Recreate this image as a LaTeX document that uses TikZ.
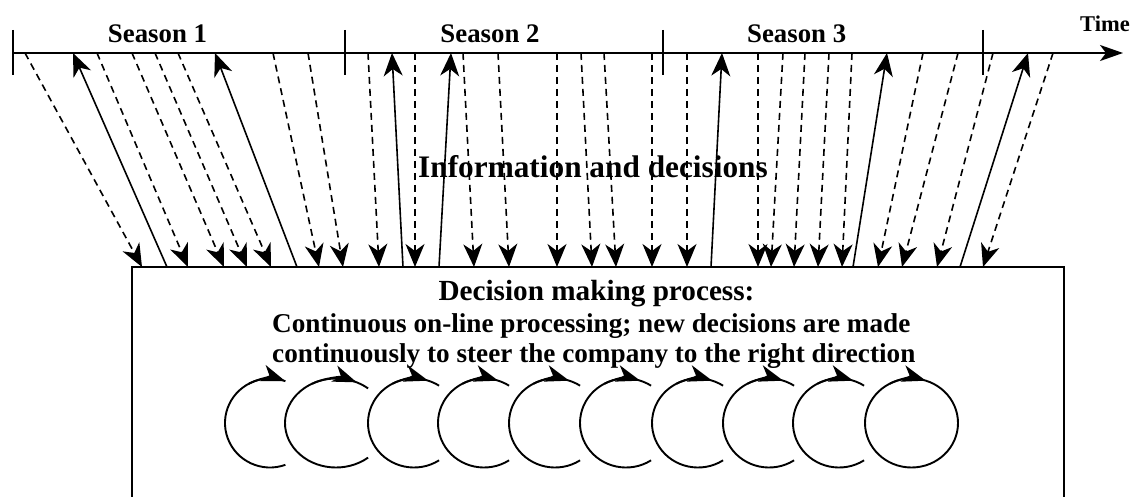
\documentclass[tikz,border=0pt]{standalone}
\usepackage{fontspec}
\setmainfont{Liberation Serif}
\usetikzlibrary{arrows.meta}
\begin{document}
\begin{tikzpicture}[x=1pt,y=-1pt,
  axisline/.style={line width=2pt,-{Stealth[length=23pt,width=16pt,inset=6pt]}},
  tickline/.style={line width=1.6pt},
  infoarrow/.style={line width=1.6pt,dash pattern=on 7pt off 5pt,-{Stealth[length=23pt,width=19pt,inset=7pt]}},
  decarrow/.style={line width=1.6pt,-{Stealth[length=23pt,width=19pt,inset=7pt]}},
  boxline/.style={line width=2pt},
  loopline/.style={line width=1.9pt},
  looparrow/.style={line width=1.9pt,-{Stealth[length=24pt,width=17pt,inset=7pt]}},
  seasonlbl/.style={font=\fontsize{26.8pt}{30pt}\selectfont\bfseries,anchor=base,inner sep=0pt},
  timelbl/.style={font=\fontsize{22.5pt}{26pt}\selectfont\bfseries,anchor=base,inner sep=0pt},
  infolbl/.style={font=\fontsize{31.3pt}{36pt}\selectfont\bfseries,anchor=base,inner sep=0pt},
  boxtitle/.style={font=\fontsize{29.2pt}{33pt}\selectfont\bfseries,anchor=base,inner sep=0pt},
  boxtext/.style={font=\fontsize{27.2pt}{31pt}\selectfont\bfseries,anchor=base west,inner sep=0pt}
]
\useasboundingbox (0,0) rectangle (1140,497);

% time axis
\coordinate (axstart) at (13,53);
\coordinate (axend) at (1123,53);
\draw[axisline] (axstart) -- (axend);
\foreach \x [count=\i] in {13,345,663,983} {
  \coordinate (tkt\i) at (\x,30);
  \coordinate (tkb\i) at (\x,75);
  \draw[tickline] (tkt\i) -- (tkb\i);
}

% labels
\node[seasonlbl] (s1) at (157.5,43) {Season 1};
\node[seasonlbl] (s2) at (490,43) {Season 2};
\node[seasonlbl] (s3) at (796.7,43) {Season 3};
\node[timelbl] (time) at (1105,31.7) {Time};
\node[infolbl] (info) at (593,178) {Information and decisions};

% decision box
\coordinate (boxbl) at (132,510);
\coordinate (boxtr) at (1064,267);
\coordinate (boxbr) at (1064,510);
\draw[boxline] (boxbl) |- (boxtr) -- (boxbr);
\node[boxtitle] (dm) at (596.5,300) {Decision making process:};
\node[boxtext] (l2) at (272,332) {Continuous on-line processing; new decisions are made};
\node[boxtext] (l3) at (272,362) {continuously to steer the company to the right direction};

% information (dashed, axis -> box)
\foreach \t/\b [count=\i] in {25/142, 97/188, 132/224, 155/247, 178/271, 273/319, 308/343,
  368/379, 415/415, 463/474, 498/509, 557/557, 581/592, 604/616, 652/652, 687/687,
  758/758, 783/771, 805/794, 829/818, 852/842, 923/878, 958/902, 993/937, 1053/983} {
  \coordinate (dt\i) at (\t,53);
  \coordinate (db\i) at (\b,267);
  \draw[infoarrow] (dt\i) -- (db\i);
}

% decisions (solid, box -> axis)
\foreach \b/\t [count=\i] in {167/73, 297/215, 403/392, 439/451, 711/722, 853/887, 960/1028} {
  \coordinate (sb\i) at (\b,267);
  \coordinate (st\i) at (\t,53);
  \draw[decarrow] (sb\i) -- (st\i);
}

% processing loops
\foreach \cx/\rx/\ea/\ta in {270/45/70/70, 336/51/51/66, 414/46/57/72, 484/46/57/72,
  555/46/57/72, 626/46/57/72, 698/46/57/72, 769/46/57/72, 839/46/57/72} {
  \draw[loopline] (\cx,423) ++(-\ea:{\rx pt} and 44.5pt)
    arc[start angle=-\ea, end angle=\ea-360, x radius=\rx pt, y radius=44.5pt];
  \draw[looparrow] (\cx,423) ++(118:{\rx pt} and 44.5pt)
    arc[start angle=118, end angle=\ta, x radius=\rx pt, y radius=44.5pt];
}
\draw[loopline] (911.5,423) ellipse [x radius=46.5pt, y radius=44.5pt];
\draw[looparrow] (911.5,423) ++(118:46.5pt and 44.5pt)
  arc[start angle=118, end angle=72, x radius=46.5pt, y radius=44.5pt];
\end{tikzpicture}
\end{document}
